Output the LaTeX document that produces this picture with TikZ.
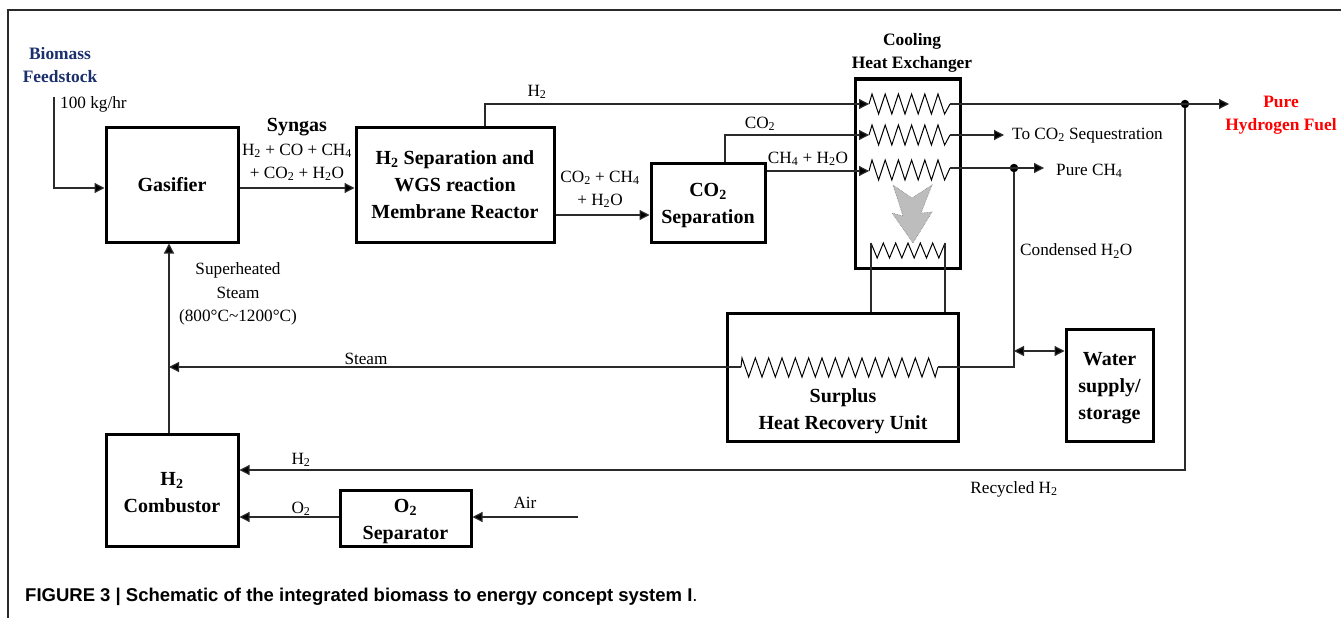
\documentclass[tikz,border=0pt]{standalone}
\usepackage{fontspec}
\setmainfont{Liberation Serif}
\newfontfamily\capfont{Liberation Sans}
\usetikzlibrary{arrows.meta}
\definecolor{navyT}{HTML}{1A2F6B}
\definecolor{lineC}{HTML}{2A2A2A}
\definecolor{shadeC}{HTML}{BDBDBD}
\newcommand{\dn}[1]{\textsubscript{#1}}
\newcommand{\pushd}[1]{\rule{0pt}{#1}}
\newcommand{\coilpath}[3]{\foreach \i in {1,...,#1} {-- ++(#2/2,#3) -- ++(#2/2,-#3)}}
\tikzset{
  x=1pt,y=-1pt,
  box/.style={draw=black,line width=3pt,rectangle,inner sep=0pt,align=center,
     font=\fontsize{20}{27}\selectfont\bfseries,minimum width=#1},
  wire/.style={draw=lineC,line width=1.2pt},
  flow/.style={wire,-{Triangle[length=10pt,width=10pt,fill=black]}},
  both/.style={wire,{Triangle[length=10pt,width=10pt,fill=black]}-{Triangle[length=10pt,width=10pt,fill=black]}},
  zig/.style={draw=black,line width=1pt,line join=miter},
  lbl/.style={inner sep=0pt,font=\fontsize{17.2}{17.2}\selectfont},
  lbll/.style={lbl,anchor=west},
  blbl/.style={inner sep=0pt,align=center,font=\fontsize{17.4}{23}\selectfont\bfseries},
  dot/.style={circle,fill=black,inner sep=0pt,minimum size=8.5pt},
}
\begin{document}
\begin{tikzpicture}
\useasboundingbox (0,0) rectangle (1341,618);
\draw[draw=lineC,line width=1.2pt] (8,618) -- (8,10) -- (1341,10);

% boxes
\node[box=132pt,minimum height=115pt] (gas) at (172,184.5) {Gasifier};
\node[box=198pt,minimum height=115pt] (mem) at (455,184.5) {H\dn{2} Separation and\\WGS reaction\\Membrane Reactor};
\node[box=114pt,minimum height=79pt] (cosep) at (708,202.5) {\pushd{20pt}CO\dn{2}\\Separation};
\node[box=105pt,minimum height=189pt] (hx) at (907.5,173.5) {};
\node[box=231pt,minimum height=128pt] (sur) at (842.5,377) {};
\node[box=87pt,minimum height=112pt] (wat) at (1109.5,385) {\pushd{20pt}Water\\supply/\\storage};
\node[box=132pt,minimum height=112pt] (com) at (172,490) {\pushd{18pt}H\dn{2}\\Combustor};
\node[box=131pt,minimum height=56pt] (osep) at (405.5,518) {\pushd{21pt}O\dn{2}\\Separator};

% box captions
\node[blbl] (hxt) at (912,53) {Cooling\\Heat Exchanger};
\node[inner sep=0pt,align=center,font=\fontsize{20}{27}\selectfont\bfseries] (surt) at (843,411) {Surplus\\Heat Recovery Unit};
\node[blbl,text=navyT] (feed) at (60,65.5) {Biomass\\Feedstock};
\node[blbl,text=red] (fuel) at (1281,115) {Pure\\Hydrogen Fuel};

% coordinates of the coil ends and free ends
\coordinate (c1i) at (869,104);  \coordinate (c1o) at (950,104);
\coordinate (c2i) at (869,135);  \coordinate (c2o) at (950,135);
\coordinate (c3i) at (869,171);  \coordinate (c3o) at (950,168);
\coordinate (c4l) at (871,243);  \coordinate (c4r) at (945,243);
\coordinate (c5l) at (741,367);  \coordinate (c5r) at (938,367);
\coordinate (h2up) at (485,104);
\coordinate (coup) at (725,135);
\coordinate (feedtop) at (54,97);
\coordinate (feedlow) at (54,188);
\coordinate (steamj) at (169,367);
\coordinate (fuelend) at (1229,104);
\coordinate (seqend) at (1004,135);
\coordinate (ch4end) at (1044,168);
\coordinate (airend) at (578,517);
\coordinate (recyc) at (1185,470);
\coordinate (wj) at (1014,351);
\coordinate (wk) at (1014,367);

\node[dot] (dH) at (1185,104) {};
\node[dot] (dC) at (1014,168) {};

% coils
\draw[zig] (c1i) -- ++(3,-10) \coilpath{5}{13.2}{20} -- ++(6.6,20) -- (c1o);
\draw[zig] (c2i) -- ++(3,-10) \coilpath{5}{13.2}{20} -- ++(6.6,20) -- (c2o);
\draw[zig] (c3i) -- ++(3,-11) \coilpath{5}{13.2}{20} -- ++(6.6,20) -- (c3o);
\draw[zig] (c4l) \coilpath{6}{12.33}{15};
\draw[zig] (c5l) -- ++(1,-9) \coilpath{14}{13.33}{19} -- ++(6.5,19) -- (c5r);

% heat arrow
\draw[fill=shadeC,draw=gray,line width=.6pt,densely dotted]
  (893,185) -- (912,198) -- (932,185) -- (921,213) -- (932,212) -- (913,243)
  -- (892,213) -- (903,216) -- cycle;

% connectors
\draw[flow] (feedtop) -- (feedlow) -- (feedlow -| gas.west);
\draw[flow] (gas.east |- 0,188) -- (mem.west |- 0,188);
\draw[flow] (mem.east |- 0,215) -- (cosep.west |- 0,215);
\draw[flow] (mem.north -| h2up) -- (h2up) -- (c1i);
\draw[flow] (cosep.north -| coup) -- (coup) -- (c2i);
\draw[flow] (cosep.east |- c3i) -- (c3i);
\draw[flow] (c1o) -- (fuelend);
\draw[flow] (c2o) -- (seqend);
\draw[flow] (c3o) -- (ch4end);
\draw[wire] (dC) -- (wk) -- (c5r);
\draw[both] (wj) -- (wat.west |- wj);
\draw[flow] (c5l) -- (steamj);
\draw[flow] (com.north -| steamj) -- (gas.south -| steamj);
\draw[flow] (dH) -- (recyc) -- (com.east |- recyc);
\draw[flow] (osep.west |- 0,517) -- (com.east |- 0,517);
\draw[flow] (airend) -- (osep.east |- airend);
\draw[wire] (c4l) -- (sur.north -| c4l);
\draw[wire] (c4r) -- (sur.north -| c4r);

% labels
\node[lbll] (l100) at (60,104) {100 kg/hr};
\node[inner sep=0pt,font=\fontsize{20}{20}\selectfont\bfseries] (syn) at (297,127) {Syngas};
\node[lbl] (s1) at (297,151) {H\dn{2} + CO + CH\dn{4}};
\node[lbl] (s2) at (297,174) {+ CO\dn{2} + H\dn{2}O};
\node[lbl] (m1) at (600,178) {CO\dn{2} + CH\dn{4}};
\node[lbl] (m2) at (600,201) {+ H\dn{2}O};
\node[lbl] (lh2) at (537,92) {H\dn{2}};
\node[lbl] (lco) at (760,124) {CO\dn{2}};
\node[lbl] (lch) at (808,159) {CH\dn{4} + H\dn{2}O};
\node[lbll] (lseq) at (1012,135.5) {To CO\dn{2} Sequestration};
\node[lbll] (lpc) at (1056,171) {Pure CH\dn{4}};
\node[lbll] (lcon) at (1020,251) {Condensed H\dn{2}O};
\node[lbl] (sh1) at (238,270) {Superheated};
\node[lbl] (sh2) at (238,293) {Steam};
\node[lbl] (sh3) at (238,317) {(800°C\textasciitilde 1200°C)};
\node[lbl] (lst) at (366,359) {Steam};
\node[lbl] (lrh) at (301,460) {H\dn{2}};
\node[lbl] (lrc) at (1014,489) {Recycled H\dn{2}};
\node[lbl] (lo2) at (301,509) {O\dn{2}};
\node[lbl] (lair) at (525,503) {Air};
\node[anchor=west,inner sep=0pt,font=\fontsize{18.5}{18.5}\selectfont\capfont] (cap) at (25,597)
  {\textbf{FIGURE 3 | Schematic of the integrated biomass to energy concept system I}.};
\end{tikzpicture}
\end{document}
